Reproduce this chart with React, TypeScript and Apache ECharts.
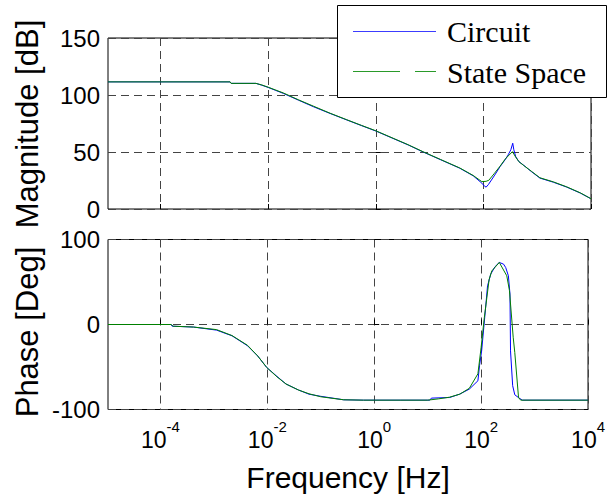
import React, { useEffect, useRef } from "react";
import * as echarts from "echarts";

// x values are log10(frequency in Hz)
const X_MIN = -4.98;
const X_MAX = 4;
const xTickExps = [-4, -2, 0, 2, 4];

const magCircuitLogF = [-4.98, -2.71, -2.69, -2.23, -2.12, -2.0, -1.86, -1.72, -1.44, -1.16, -0.85, -0.54, -0.27, 0.0, 0.3, 0.6, 0.88, 1.2, 1.56, 1.81, 1.97, 2.02, 2.05, 2.09, 2.2, 2.31, 2.4, 2.46, 2.51, 2.545, 2.565, 2.6, 2.66, 2.74, 2.9, 3.05, 3.3, 3.55, 3.8, 4.0];
const magCircuitDb = [111.5, 111.5, 110.2, 110.2, 108.6, 106.6, 104.0, 101.4, 95.5, 89.7, 83.8, 78.1, 73.2, 68.4, 62.3, 56.2, 50.0, 43.3, 35.8, 29.1, 22.7, 20.0, 19.2, 21.3, 29.0, 37.2, 43.0, 47.5, 52.0, 57.7, 52.0, 46.0, 41.5, 38.7, 32.5, 27.1, 23.5, 19.2, 14.0, 9.0];

const magStateLogF = [-4.98, -2.71, -2.69, -2.23, -2.12, -2.0, -1.86, -1.72, -1.44, -1.16, -0.85, -0.54, -0.27, 0.0, 0.3, 0.6, 0.88, 1.2, 1.56, 1.81, 1.97, 2.05, 2.1, 2.2, 2.31, 2.4, 2.46, 2.54, 2.6, 2.66, 2.74, 2.9, 3.05, 3.3, 3.55, 3.8, 4.0];
const magStateDb = [111.5, 111.5, 110.2, 110.2, 108.8, 106.8, 104.3, 101.8, 95.8, 90.2, 84.0, 78.3, 73.4, 68.6, 62.5, 56.4, 50.2, 43.5, 36.0, 29.4, 24.0, 24.3, 25.2, 31.0, 37.6, 43.5, 46.5, 50.3, 45.5, 41.5, 38.5, 32.8, 27.4, 23.8, 19.4, 14.2, 9.0];

const phaseCircuitLogF = [-4.98, -3.8, -3.78, -3.38, -2.95, -2.66, -2.37, -2.18, -2.01, -1.82, -1.65, -1.42, -1.22, -1.0, -0.57, -0.2, 0.5, 1.04, 1.07, 1.41, 1.6, 1.78, 1.94, 1.97, 2.01, 2.05, 2.09, 2.12, 2.18, 2.26, 2.34, 2.42, 2.46, 2.51, 2.54, 2.55, 2.59, 2.63, 2.7, 2.77, 4.0];
const phaseCircuitDeg = [0, 0, -2, -3, -6.6, -13.3, -25, -37, -50.6, -61, -70, -77, -82, -84.5, -88.6, -89, -89, -89, -86.6, -85.9, -81.9, -76, -66.2, -48.6, -31, -3.5, 24, 45.5, 59.3, 68, 73, 71, 67, 57.3, 35.8, -31, -72, -82.7, -86, -89, -89];

const phaseStateLogF = [-4.98, -3.8, -3.76, -3.38, -2.95, -2.66, -2.37, -2.18, -2.01, -1.82, -1.65, -1.42, -1.22, -1.0, -0.57, -0.2, 0.5, 1.0, 1.2, 1.41, 1.6, 1.78, 1.94, 2.0, 2.06, 2.15, 2.2, 2.34, 2.48, 2.53, 2.6, 2.63, 2.7, 2.74, 4.0];
const phaseStateDeg = [0, 0, -2, -3, -6, -13, -24.5, -37, -50.6, -61.5, -70, -77, -81.5, -85, -88.6, -89, -89, -89, -87.5, -85.5, -82, -75, -58, -27, 8, 53, 63, 73, 57.3, 40, -15, -33, -86, -89, -89];

const seriesNames = ["Circuit", "State Space"];
const seriesColors = ["#0000ff", "#008000"];
const yTitles = ["Magnitude [dB]", "Phase [Deg]"];
const xTitle = "Frequency [Hz]";

const FONT = "Liberation Sans";

function pair(xs: number[], ys: number[]) {
  return xs.map((x, i) => [x, ys[i]]);
}

export default function App() {
  const ref = useRef<HTMLDivElement>(null);
  useEffect(() => {
    const chart = echarts.init(ref.current as HTMLDivElement, null, { renderer: "svg" });
    const gridLine = { show: true, lineStyle: { color: "#444", type: [8, 5] as any, width: 1 } };
    const tick = { show: true, inside: true, length: 5, lineStyle: { color: "#000", width: 1 } };
    const W10 = 25.6; // width of "10" at 23px
    const WNEG = 13.3; // width of "-4" at 15px
    const WPOS = 8.3; // width of "0" at 15px
    const xAxis = (idx: number) => ({
      type: "value",
      gridIndex: idx,
      min: X_MIN,
      max: X_MAX,
      axisLine: { show: false },
      axisTick: { ...tick, customValues: xTickExps },
      splitLine: gridLine,
      axisLabel:
        idx === 1
          ? {
              show: true,
              customValues: xTickExps,
              margin: 11,
              formatter: (v: number) => (v < 0 ? `{sn|${v}}\n{bn|10}` : `{sp|${v}}\n{bp|10}`),
              rich: {
                sn: { fontSize: 15, fontFamily: FONT, color: "#000", lineHeight: 12, padding: [0, 0, 0, W10] },
                sp: { fontSize: 15, fontFamily: FONT, color: "#000", lineHeight: 12, padding: [0, 0, 0, W10] },
                bn: { fontSize: 23, fontFamily: FONT, color: "#000", lineHeight: 15, padding: [0, WNEG, 0, 0] },
                bp: { fontSize: 23, fontFamily: FONT, color: "#000", lineHeight: 15, padding: [0, WPOS, 0, 0] },
              },
            }
          : { show: false, customValues: xTickExps },
      name: idx === 1 ? xTitle : "",
      nameLocation: "middle",
      nameGap: 53,
      nameTextStyle: { fontSize: 30, fontFamily: FONT, color: "#000" },
    });
    const yLabel = { fontSize: 24, fontFamily: FONT, color: "#000", margin: 8 };
    const line = (name: string, color: string, xi: number, data: number[][]) => ({
      type: "line",
      name,
      xAxisIndex: xi,
      yAxisIndex: xi,
      data,
      symbol: "none",
      showSymbol: false,
      lineStyle: { color, width: 1 },
      itemStyle: { color },
    });
    const yTitle = (text: string, y: number) => ({
      type: "text",
      x: 27,
      y,
      rotation: Math.PI / 2,
      style: { text, fontSize: 31, fontFamily: FONT, fill: "#000", align: "center", verticalAlign: "middle", textAlign: "center", textVerticalAlign: "middle" },
    });
    chart.setOption({
      animation: false,
      backgroundColor: "#fff",
      grid: [
        { left: 108, right: 17, top: 38, height: 171, show: true, borderColor: "#000", borderWidth: 1, backgroundColor: "#fff" },
        { left: 108, right: 17, top: 239.5, height: 170, show: true, borderColor: "#000", borderWidth: 1, backgroundColor: "#fff" },
      ],
      xAxis: [xAxis(0), xAxis(1)],
      yAxis: [
        {
          type: "value", gridIndex: 0, min: 0, max: 150, interval: 50,
          axisLine: { show: false }, axisTick: tick, splitLine: gridLine, axisLabel: yLabel,
        },
        {
          type: "value", gridIndex: 1, min: -100, max: 100, interval: 100,
          axisLine: { show: false }, axisTick: tick, splitLine: gridLine, axisLabel: yLabel,
        },
      ],
      series: [
        line(seriesNames[0], seriesColors[0], 0, pair(magCircuitLogF, magCircuitDb)),
        line(seriesNames[1], seriesColors[1], 0, pair(magStateLogF, magStateDb)),
        line(seriesNames[0], seriesColors[0], 1, pair(phaseCircuitLogF, phaseCircuitDeg)),
        line(seriesNames[1], seriesColors[1], 1, pair(phaseStateLogF, phaseStateDeg)),
      ],
      graphic: [
        yTitle(yTitles[0], 124),
        yTitle(yTitles[1], 332),
        {
          type: "group",
          z: 100,
          children: [
            { type: "rect", z: 100, shape: { x: 337.5, y: 5.5, width: 269, height: 92 }, style: { fill: "#fff", stroke: "#000", lineWidth: 1 } },
            { type: "line", z: 101, shape: { x1: 353, y1: 31.5, x2: 436, y2: 31.5 }, style: { stroke: "#3c3cff", lineWidth: 1 } },
            { type: "text", z: 101, x: 447, y: 31.6, style: { text: seriesNames[0], fontSize: 30, fontFamily: "Liberation Serif", fill: "#000", verticalAlign: "middle", textVerticalAlign: "middle" } },
            { type: "line", z: 101, shape: { x1: 353, y1: 71.5, x2: 436, y2: 71.5 }, style: { stroke: "#2a9a2a", lineWidth: 1, lineDash: [47, 15] } },
            { type: "text", z: 101, x: 447, y: 72, style: { text: seriesNames[1], fontSize: 30, fontFamily: "Liberation Serif", fill: "#000", verticalAlign: "middle", textVerticalAlign: "middle" } },
          ],
        },
      ],
    });
    return () => chart.dispose();
  }, []);
  return <div ref={ref} style={{ position: "fixed", left: 0, top: 0, width: 608, height: 499, background: "#fff" }} />;
}
